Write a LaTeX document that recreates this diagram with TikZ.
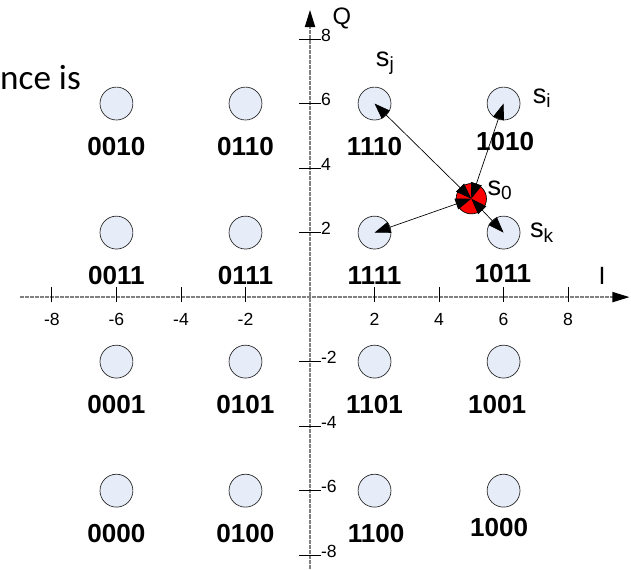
\documentclass[tikz,border=0pt]{standalone}
\usepackage{fontspec}
\setmainfont{Liberation Sans}
\newfontfamily\calibri{Carlito}
\usetikzlibrary{arrows.meta}
\definecolor{ptfill}{RGB}{231,237,248}
\begin{document}
\begin{tikzpicture}[
  pt/.style={circle, draw=black!85, fill=ptfill, line width=0.6pt, minimum size=1.02cm, inner sep=0pt},
  bits/.style={font=\fontsize{23}{25}\selectfont\bfseries},
  ticklbl/.style={font=\fontsize{15.5}{17}\selectfont, inner sep=1pt},
  sym/.style={font=\fontsize{24}{26}\selectfont, inner sep=1pt},
  axis/.style={gray, line width=1.1pt, dash pattern=on 0.6pt off 0.5pt, -{Triangle[length=15pt,width=9pt,color=black]}},
  dbl/.style={{Triangle[length=14pt,width=10pt]}-{Triangle[length=14pt,width=10pt]}, line width=0.6pt}
]
  \useasboundingbox (-9.61,-8.43) rectangle (9.95,9.21);
  % text cut off at the left edge
  \node[font=\calibri\fontsize{31}{33}\selectfont, anchor=base west, inner sep=0pt] (cut) at (-9.61,6.45) {nce is};
  % axes
  \coordinate (xl) at (-9.0,0);
  \coordinate (xr) at (9.9,0);
  \coordinate (yb) at (0,-8.43);
  \coordinate (yt) at (0,8.9);
  \draw[axis] (xl) -- (xr);
  \draw[axis] (yb) -- (yt);
  \foreach \t in {-8,-6,-4,-2,2,4,6,8} {
    \draw[line width=0.8pt] (\t,-0.15) -- (\t,0.3);
    \node[ticklbl] at (\t,-0.7) {\t};
    \draw[line width=0.8pt] (-0.33,\t) -- (0.33,\t);
    \node[ticklbl, anchor=west] at (0.3,\t+0.12) {\t};
  }
  \node[font=\fontsize{21}{23}\selectfont] (qlbl) at (0.99,8.65) {Q};
  \node[font=\fontsize{22}{24}\selectfont] (ilbl) at (9.05,0.65) {I};
  % constellation points and bit labels
  \foreach \x/\y/\c/\dx/\dy in {-6/6/0010/0/0, -2/6/0110/0/0, 2/6/1110/0/0, 6/6/1010/0.05/0.15,
      -6/2/0011/0/0, -2/2/0111/0/0, 2/2/1111/0/0, 6/2/1011/-0.02/0.05,
      -6/-2/0001/0/0, -2/-2/0101/0/0, 2/-2/1101/0/0, 6/-2/1001/-0.2/0,
      -6/-6/0000/0/0, -2/-6/0100/0/0, 2/-6/1100/0.05/0, 6/-6/1000/-0.14/0.18} {
    \node[pt] (p\c) at (\x,\y) {};
    \node[bits] (l\c) at (\x+\dx,\y-1.33+\dy) {\c};
  }
  % received symbol
  \node[circle, draw=black, fill=red, line width=0.6pt, minimum size=0.94cm, inner sep=0pt] (s0) at (5,3.05) {};
  \draw[dbl] (s0.center) -- (p1110.center);
  \draw[dbl] (s0.center) -- (p1010.center);
  \draw[dbl] (s0.center) -- (p1111.center);
  \draw[dbl] (s0.center) -- (p1011.center);
  \node[sym] (sj) at (2.33,7.26) {s\textsubscript{j}};
  \node[sym] (si) at (7.19,6.17) {s\textsubscript{i}};
  \node[sym] (szero) at (5.89,3.32) {s\textsubscript{0}};
  \node[sym] (sk) at (7.19,2.0) {s\textsubscript{k}};
\end{tikzpicture}
\end{document}
